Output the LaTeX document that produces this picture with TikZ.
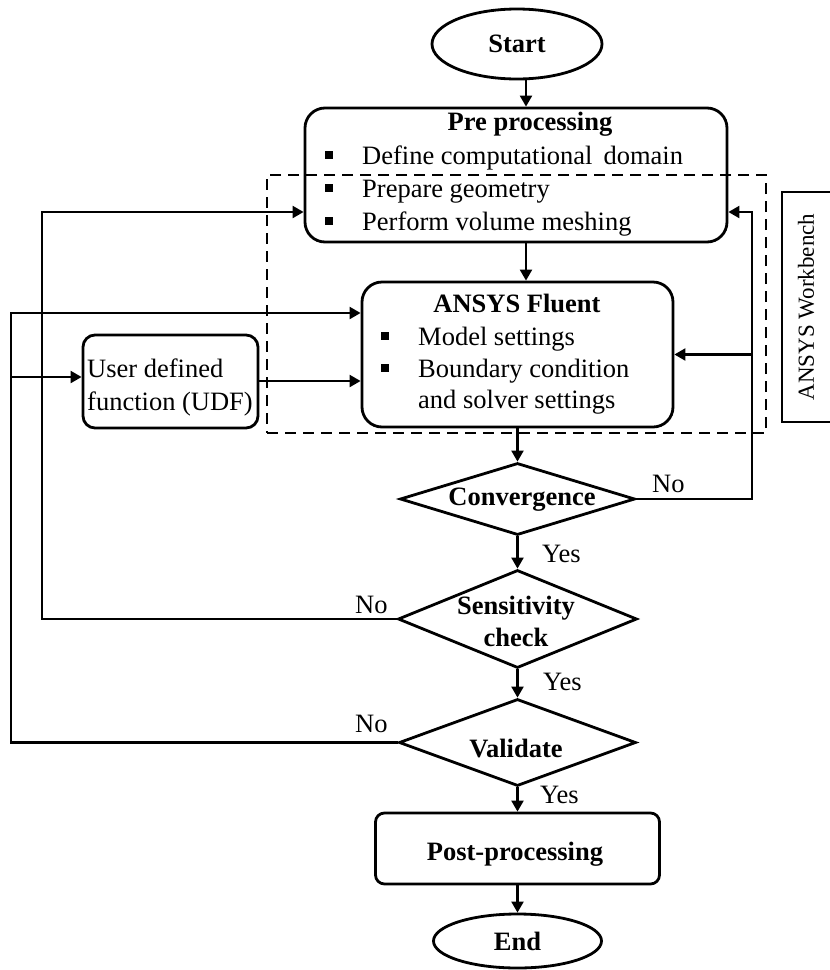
\documentclass[tikz,border=0pt]{standalone}
\usepackage{fontspec}
\setmainfont{Liberation Serif}
\usetikzlibrary{shapes.geometric,arrows.meta}
\newcommand\bul{\makebox[37pt][l]{\rule[5.5pt]{7.5pt}{7.5pt}}}
\begin{document}
\begin{tikzpicture}[x=1pt,y=-1pt,
  fs/.style={font=\fontsize{26.5}{32}\selectfont},
  fb/.style={font=\fontsize{26.5}{32}\selectfont\bfseries},
  shp/.style={draw, line width=2.8pt, inner sep=0pt},
  rbox/.style={shp, rectangle},
  oval/.style={shp, ellipse, fb},
  dia/.style={shp, diamond},
  txt/.style={fs, inner sep=0pt, anchor=base west},
  ctxt/.style={fs, inner sep=0pt, anchor=base},
  btxt/.style={fb, inner sep=0pt, anchor=base},
  line/.style={line width=2.2pt},
  arr/.style={line, -{Triangle[length=11pt,width=12pt]}},
]
\useasboundingbox (0,0) rectangle (830,970);

% shapes
\node[oval, minimum width=170pt, minimum height=70pt] (start) at (517,44) {Start};
\node[rbox, rounded corners=20pt, minimum width=422pt, minimum height=134pt] (pre) at (516,175) {};
\node[btxt] (pret) at (530,130) {Pre processing};
\node[txt] (pre1) at (325,164) {\bul Define computational\, domain};
\node[txt] (pre2) at (325,197) {\bul Prepare geometry};
\node[txt] (pre3) at (325,230) {\bul Perform volume meshing};

\node[rbox, rounded corners=20pt, minimum width=311pt, minimum height=145pt] (fluent) at (517.5,354.5) {};
\node[btxt] (flt) at (517,312) {ANSYS Fluent};
\node[txt] (fl1) at (381,345) {\bul Model settings};
\node[txt] (fl2) at (381,377) {\bul Boundary condition};
\node[txt] (fl3) at (418,408) {and solver settings};

\node[rbox, rounded corners=12pt, minimum width=175pt, minimum height=93pt] (udf) at (170.5,381.5) {};
\node[txt] (udf1) at (87,377) {User defined};
\node[txt] (udf2) at (87,410) {function (UDF)};

\node[dia, minimum width=235pt, minimum height=72pt] (conv) at (517.5,499) {};
\node[btxt] (convt) at (522,505) {Convergence};

\node[dia, minimum width=239pt, minimum height=98pt] (sens) at (517.5,619) {};
\node[btxt] (senst1) at (516,614) {Sensitivity};
\node[btxt] (senst2) at (516,646) {check};

\node[dia, minimum width=237pt, minimum height=87pt] (val) at (517.5,742.5) {};
\node[btxt] (valt) at (516,757) {Validate};

\node[rbox, rounded corners=9pt, minimum width=284pt, minimum height=71pt] (post) at (517.5,848.5) {};
\node[btxt] (postt) at (515,860) {Post-processing};

\node[oval, minimum width=168pt, minimum height=54pt] (end) at (517.5,941) {End};

% ANSYS Workbench frame
\node[draw, line width=2.8pt, dash pattern=on 11pt off 7pt, inner sep=0pt,
      minimum width=499pt, minimum height=258pt] (wbox) at (516.5,304) {};
\node[draw, line width=2.8pt, inner sep=0pt, minimum width=80pt, minimum height=230pt] (wbl) at (822,307) {};
\node[font=\fontsize{23}{27}\selectfont, inner sep=0pt, rotate=90] (wblt) at (806,307) {ANSYS Workbench};

% helper coordinates
\coordinate (xa) at (526,0);
\coordinate (xr) at (752,0);
\coordinate (xl1) at (42,0);
\coordinate (xl2) at (11,0);
\coordinate (ya) at (0,212);
\coordinate (yb) at (0,313);
\coordinate (yc) at (0,377);
\coordinate (yd) at (0,381);

% main flow
\draw[arr] (xa |- start.south) -- (xa |- pre.north);
\draw[arr] (xa |- pre.south) -- (xa |- fluent.north);
\draw[arr] (fluent.south) -- (conv.north);
\draw[arr] (conv.south) -- (sens.north);
\draw[arr] (sens.south) -- (val.north);
\draw[arr] (val.south) -- (post.north);
\draw[arr] (post.south) -- (end.north);

% feedback loops
\draw[arr] (conv.east) -| (xr |- ya) -- (pre.east |- ya);
\draw[arr] (xr |- fluent.east) -- (fluent.east);
\draw[arr] (sens.west) -| (xl1 |- ya) -- (pre.west |- ya);
\draw[arr] (val.west) -| (xl2 |- yb) -- (fluent.west |- yb);
\draw[arr] (xl2 |- yc) -- (udf.west |- yc);
\draw[arr] (udf.east |- yd) -- (fluent.west |- yd);

% labels
\node[txt] (no1) at (652,492) {No};
\node[txt] (yes1) at (542,562) {Yes};
\node[txt] (no2) at (355,613) {No};
\node[txt] (yes2) at (543,690) {Yes};
\node[txt] (no3) at (355,732) {No};
\node[txt] (yes3) at (540,803) {Yes};
\end{tikzpicture}
\end{document}
